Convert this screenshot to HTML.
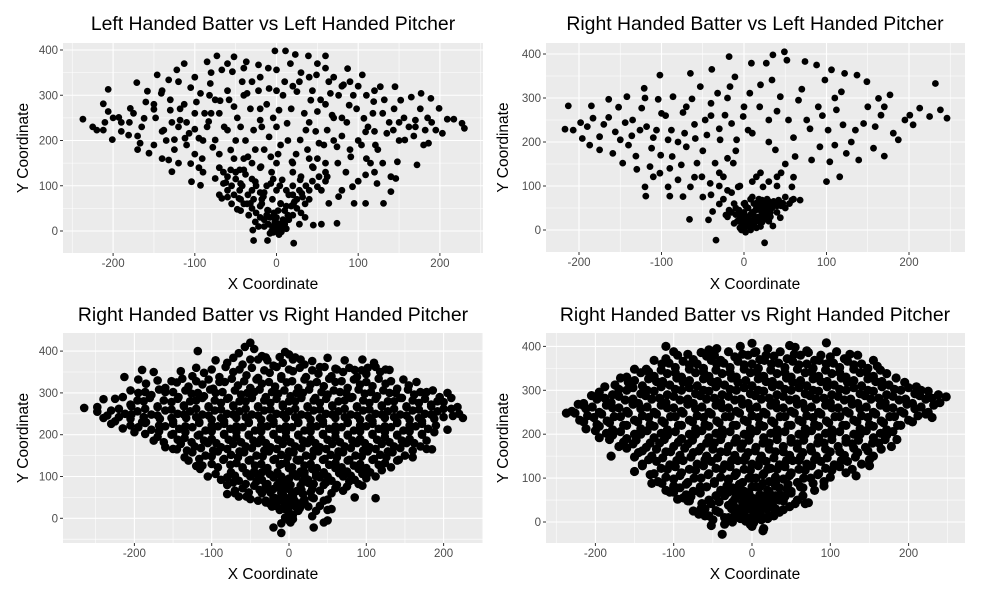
<!DOCTYPE html>
<html><head><meta charset="utf-8"><style>
html,body{margin:0;padding:0;background:#fff;}
svg{display:block;font-family:"Liberation Sans",Arial,sans-serif;}
</style></head><body>
<svg id="chart" width="981" height="598" viewBox="0 0 981 598" xmlns="http://www.w3.org/2000/svg">
<rect x="0" y="0" width="981" height="598" fill="#fff"/>
</svg>
<script>
const xTicks=[-200,-100,0,100,200];
const yTicks=[0,100,200,300,400];
const titles=["Left Handed Batter vs Left Handed Pitcher","Right Handed Batter vs Left Handed Pitcher","Right Handed Batter vs Right Handed Pitcher","Right Handed Batter vs Right Handed Pitcher"];
const hitsLvL=[[-237,247],[-220,223],[-212,281],[-206,313],[-201,202],[-206,264],[-212,223],[-193,251],[-181,212],[-179,271],[-171,328],[-158,309],[-167,194],[-156,172],[-162,249],[-146,345],[-141,304],[-150,269],[-138,223],[-130,267],[-132,334],[-125,202],[-132,157],[-128,131],[-122,356],[-113,370],[-113,280],[-118,245],[-107,216],[-105,317],[-105,149],[-104,109],[-93,101],[-93,304],[-91,160],[-95,205],[-85,374],[-81,326],[-83,242],[-75,201],[-73,387],[-69,288],[-75,116],[-67,356],[-60,223],[-67,72],[-62,107],[-56,135],[-56,179],[-52,385],[-52,275],[-54,352],[-44,230],[-37,374],[-40,135],[-46,72],[-36,304],[-35,164],[-44,105],[-32,61],[-28,-21],[-29,2],[-28,223],[-26,109],[-22,367],[-20,245],[-19,142],[-16,76],[-11,-21],[-9,208],[-9,315],[-7,105],[-7,164],[-11,46],[-3,30],[-1,2],[1,17],[-2,398],[3,267],[5,190],[7,113],[5,61],[0,356],[11,398],[13,238],[17,370],[19,153],[21,61],[21,-27],[23,390],[25,308],[29,201],[29,113],[31,83],[36,223],[39,387],[42,289],[44,142],[45,13],[49,345],[50,264],[52,194],[50,98],[55,15],[60,387],[62,223],[62,120],[64,61],[66,304],[68,256],[74,17],[74,186],[76,76],[82,323],[87,359],[89,278],[91,164],[93,98],[95,61],[105,345],[107,249],[109,219],[109,124],[109,61],[115,150],[119,286],[121,190],[123,105],[127,319],[131,61],[135,216],[140,87],[143,223],[145,319],[146,116],[148,153],[152,289],[157,201],[165,296],[172,146],[170,245],[177,304],[182,223],[186,194],[189,293],[195,223],[199,271],[203,216],[209,247],[217,247],[227,238],[230,227],
[-40,60],[-30,50],[-25,40],[-20,30],[-15,25],[-10,15],[-5,10],[0,5],[5,8],[10,15],[15,25],[20,35],[25,50],[-35,80],[-45,90],[-55,100],[-60,120],[-50,130],[-20,55],[-10,45],[0,30],[10,45],[-5,70],[5,60],[-15,85],[15,80],[-25,100],[0,90],[20,100],[30,120],[-8,-5],[3,-8],[-2,20],[8,25],[-12,35],[12,5],[-3,40],[25,70],[35,60],[-30,115],[40,90],[-70,80],[-65,130],[-45,135],[-38,125],[-55,60],[-48,48],[-60,75],[35,30],[28,15],[18,55],[-18,70],[-22,10],[6,-2],[0,0],[-4,-3],[45,140],[60,150],[70,200],[80,250],[-80,260],[-90,200],[-110,240],[-120,230],[-100,260],[-130,290],[-150,280],[-165,230],[-190,240],[-75,290],[-60,310],[-40,300],[-20,270],[-30,330],[-10,360],[10,330],[30,350],[50,370],[70,340],[90,330],[110,300],[130,260],[150,240],[170,230],[185,250],[100,200],[120,220],[60,280],[40,240],[-50,200],[-70,170],[-95,140],[-85,230],[-125,180],[-140,220],[-175,260],[-200,250],[110,160],[130,150],[90,180],[60,110],[80,90],[-140,160],[-110,190],[0,230],[-15,180],[20,150],[50,160],[-30,150],
[-180,240],[-170,210],[-160,285],[-148,250],[-135,200],[-128,240],[-118,270],[-112,205],[-100,225],[-98,285],[-88,260],[-82,300],[-78,185],[-70,260],[-64,230],[-58,290],[-52,160],[-48,250],[-42,330],[-38,200],[-32,270],[-26,180],[-22,310],[-18,230],[-12,280],[-6,130],[-4,250],[2,170],[8,300],[14,200],[18,270],[24,170],[28,330],[34,260],[38,180],[44,310],[48,220],[54,290],[58,190],[64,330],[70,250],[76,300],[80,210],[86,240],[94,300],[98,270],[104,190],[112,230],[118,260],[124,180],[132,290],[138,240],[144,270],[150,200],[156,250],[162,230],[168,210],[176,270],[180,190],[190,240],[-60,90],[-52,80],[-44,70],[-36,60],[-28,70],[-20,85],[-12,100],[-4,115],[4,100],[12,90],[20,80],[28,90],[36,100],[44,110],[52,120],[-42,100],[-30,90],[-18,60],[-8,30],[2,45],[12,55],[22,65],[32,75],[-50,115],[-65,105],[40,70],[55,90],[-15,10],[-6,0],[4,15],[14,35],[-26,20],[-34,35],[-44,45],[30,40],[-70,140],[-40,160],[-20,140],[0,150],[20,130],[40,160],[60,130],[75,150],[85,130],[100,110],[120,130],[140,120],[-150,190],[-170,180],[-190,220],[-210,240],[-225,230],[-100,170],[-120,150],[-90,130],[-140,310],[-120,330],[-100,340],[-80,350],[-60,370],[-40,360],[-20,340],[0,310],[20,320],[40,340],[60,360],[80,320],[100,320],[120,310]];
const hitsRvL=[[-217,229],[-213,282],[-207,227],[-198,244],[-196,208],[-190,235],[-185,282],[-183,254],[-187,193],[-175,212],[-175,182],[-164,256],[-164,297],[-159,174],[-156,223],[-152,279],[-147,152],[-144,244],[-142,303],[-140,193],[-136,214],[-131,168],[-130,138],[-126,227],[-124,277],[-121,322],[-120,98],[-119,77],[-118,235],[-114,144],[-112,186],[-110,121],[-106,227],[-104,297],[-102,352],[-101,170],[-102,129],[-100,265],[-92,205],[-92,98],[-90,77],[-88,227],[-87,167],[-86,303],[-80,114],[-76,148],[-74,267],[-74,76],[-72,220],[-70,189],[-66,24],[-65,98],[-65,356],[-63,298],[-59,208],[-57,152],[-53,326],[-51,121],[-47,250],[-45,216],[-43,23],[-41,106],[-40,288],[-39,365],[-38,42],[-35,152],[-34,-23],[-32,311],[-29,205],[-30,59],[-25,121],[-23,261],[-22,34],[-20,163],[-18,394],[-17,326],[-15,242],[-13,152],[-11,348],[-9,205],[-7,98],[-5,38],[-3,0],[-1,258],[1,61],[5,227],[7,311],[9,379],[11,15],[15,121],[17,61],[19,280],[23,98],[25,-29],[27,379],[27,30],[30,250],[34,341],[35,9],[35,398],[38,182],[40,121],[44,303],[47,61],[49,405],[52,386],[54,250],[58,98],[62,167],[68,68],[66,295],[74,383],[76,250],[82,159],[88,375],[90,280],[92,189],[98,341],[100,110],[102,227],[104,155],[106,364],[110,193],[112,273],[116,121],[118,314],[120,239],[122,356],[124,174],[135,227],[137,352],[139,159],[145,242],[149,337],[157,186],[159,235],[163,299],[166,261],[170,168],[170,280],[177,307],[181,220],[187,205],[195,250],[201,261],[205,239],[213,277],[225,258],[232,333],[238,273],[246,254],
[0,5],[3,10],[6,15],[10,20],[14,25],[18,30],[22,35],[26,40],[30,45],[34,50],[5,30],[10,40],[15,50],[20,55],[25,60],[30,65],[35,55],[-3,15],[-5,25],[0,40],[5,50],[12,60],[18,70],[28,70],[38,60],[40,40],[22,18],[15,5],[8,0],[2,-5],[-2,8],[-8,20],[-10,35],[0,60],[8,70],[25,25],[32,30],[20,45],[12,32],[-6,45],[-12,60],[-15,85],[-5,100],[10,110],[30,110],[45,130],[50,75],[55,60],[60,70],[-20,30],[-25,70],[-40,80],[-30,100],[45,55],
[-5,5],[4,20],[8,35],[14,45],[18,20],[24,50],[28,55],[32,40],[36,65],[40,55],[42,68],[2,55],[-2,30],[-6,35],[6,8],[12,12],[20,8],[26,30],[30,20],[16,62],[22,68],[-10,50],[-15,40],[10,75],[50,50],[58,68],[44,28],[-12,15],[-18,45],[0,20],
[-170,240],[-150,205],[-135,250],[-120,300],[-110,210],[-95,260],[-80,200],[-70,280],[-60,240],[-50,180],[-40,260],[-30,230],[-20,300],[-10,180],[0,280],[10,220],[20,330],[30,200],[40,270],[50,150],[60,210],[70,320],[80,230],[95,260],[110,300],[130,200],[150,280],[-90,140],[-60,120],[-30,130],[-20,90],[20,130],[40,100],[-50,75],[60,120]];
const hitsRvR1=[[-50,420],[-45,405],[-57,410],[-5,398],[0,392],[8,385],[15,380],[-65,395],[-35,388],[-118,400],
[-95,378],[-80,372],[-60,368],[-40,380],[-20,365],[-8,372],[20,368],[40,362],[60,358],[85,355],[110,372],[102,360],[-30,385],
[-140,352],[-125,340],[-110,348],[-90,338],[-72,350],[-55,342],[-40,336],[-25,348],[-10,340],[5,352],[22,338],[38,346],[55,340],[70,350],[88,338],[100,345],[118,350],[130,355],[-175,350],[-190,355],
[-185,322],[-160,312],[-145,325],[-130,315],[-112,320],[-98,310],[-83,326],[-66,318],[-50,312],[-35,322],[-18,315],[-3,325],[12,312],[28,320],[45,316],[60,326],[76,312],[92,320],[108,316],[125,322],[140,310],[155,318],[-213,338],[-170,330],
[-215,290],[-195,300],[-178,295],[-160,302],[-143,290],[-126,298],[-110,292],[-95,300],[-78,288],[-62,296],[-45,302],[-30,290],[-14,298],[2,292],[18,300],[34,288],[50,296],[66,302],[82,290],[98,298],[114,292],[130,300],[146,288],[162,296],[178,302],[195,290],[205,300],
[-240,285],[-205,272],[-188,280],[-170,268],[-152,278],[-136,270],[-120,282],[-104,268],[-88,276],[-72,270],[-56,280],[-40,268],[-24,276],[-8,272],[8,280],[24,268],[40,276],[56,270],[72,282],[88,268],[104,276],[120,270],[136,280],[152,268],[168,276],[184,272],[200,278],
[-265,264],[-230,258],[-212,250],[-196,256],[-178,248],[-160,258],[-144,250],[-128,256],[-112,248],[-96,258],[-80,250],[-64,256],[-48,248],[-32,258],[-16,250],[0,256],[16,248],[32,258],[48,250],[64,256],[80,248],[96,258],[112,250],[128,256],[144,248],[160,258],[176,250],[192,256],[210,262],[225,240],
[-225,232],[-205,238],[-185,230],[-167,238],[-150,232],[-133,240],[-116,230],[-100,236],[-84,232],[-68,240],[-52,230],[-36,236],[-20,232],[-4,240],[12,230],[28,236],[44,232],[60,240],[76,230],[92,236],[108,232],[124,240],[140,230],[156,236],[172,232],[188,238],[212,245],[-240,240],[-248,255],
[-215,215],[-195,218],[-178,212],[-160,220],[-142,214],[-125,218],[-108,210],[-92,220],[-76,214],[-60,218],[-44,210],[-28,220],[-12,214],[4,218],[20,210],[36,220],[52,214],[68,218],[84,210],[100,220],[116,214],[132,218],[148,210],[164,220],[180,214],[205,212],
[-170,195],[-152,200],[-135,192],[-118,198],[-100,190],[-84,200],[-68,194],[-52,198],[-36,190],[-20,200],[-4,194],[12,198],[28,190],[44,200],[60,194],[76,198],[92,190],[108,200],[124,194],[140,198],[156,190],[172,200],[-190,230],
[-160,170],[-140,178],[-122,172],[-105,180],[-88,170],[-72,178],[-56,172],[-40,180],[-24,170],[-8,178],[8,172],[24,180],[40,170],[56,178],[72,172],[88,180],[104,170],[120,178],[136,172],[152,180],[170,172],[185,165],
[-125,158],[-108,150],[-92,160],[-75,152],[-58,158],[-42,150],[-26,160],[-10,152],[6,158],[22,150],[38,160],[54,152],[70,158],[86,150],[102,160],[118,152],[134,158],[150,150],[-145,165],
[-130,138],[-100,130],[-85,140],[-68,132],[-52,138],[-36,130],[-20,140],[-4,132],[12,138],[28,130],[44,140],[60,132],[76,138],[92,130],[108,140],[124,132],[140,138],[-120,125],
[-115,118],[-75,110],[-60,120],[-45,112],[-30,118],[-15,110],[0,120],[15,112],[30,118],[45,110],[60,120],[75,112],[90,118],[105,110],[120,115],[-105,100],
[-80,98],[-65,90],[-50,100],[-35,92],[-20,98],[-5,90],[10,100],[25,92],[40,98],[55,90],[70,100],[85,92],[100,96],[-88,92],
[-80,80],[-60,72],[-45,78],[-30,70],[-15,80],[0,72],[15,78],[30,70],[45,80],[60,72],[75,76],[95,78],[-70,60],
[-80,58],[-55,52],[-35,60],[-20,50],[-8,58],[5,52],[18,58],[30,50],[50,45],[85,50],[112,48],[-65,52],[-40,42],[-25,35],
[-30,38],[-18,30],[-5,36],[8,32],[20,38],[40,30],[55,22],[-12,45],[0,45],[10,25],
[-12,20],[0,14],[12,18],[35,18],[50,20],[-5,22],[5,8],
[-5,2],[5,-2],[30,5],[45,-10],[0,-5],[-10,-12],
[-20,-22],[2,-10],[32,-22],[50,-5],[-10,-35],
[-10,60],[0,70],[10,65],[-15,40],[20,45],[-30,80],[25,85],[-5,50],[8,40],[15,30],[-20,70],
[-72,384],[-50,380],[-28,378],[-12,386],[5,380],[30,376],[50,384],[72,378],[95,380],
[-120,360],[-100,356],[-82,362],[-64,356],[-48,360],[-32,354],[-16,362],[0,356],[14,360],[30,354],[46,362],[62,356],[78,360],[94,354],[112,362],[125,356],
[-195,332],[-152,328],[-138,334],[-120,328],[-104,332],[-90,326],[-74,334],[-58,328],[-42,332],[-26,326],[-10,334],[4,328],[20,332],[36,326],[52,334],[68,328],[84,332],[100,326],[116,334],[132,328],[148,332],[165,326],
[-205,306],[-186,302],[-168,308],[-150,302],[-134,306],[-118,300],[-102,308],[-86,302],[-70,306],[-54,300],[-38,308],[-22,302],[-6,306],[10,300],[26,308],[42,302],[58,306],[74,300],[90,308],[106,302],[122,306],[138,300],[154,308],[170,302],[186,306],
[-225,286],[-196,282],[-180,288],[-162,282],[-144,286],[-128,280],[-112,288],[-96,282],[-80,286],[-64,280],[-48,288],[-32,282],[-16,286],[0,280],[16,288],[32,282],[48,286],[64,280],[80,288],[96,282],[112,286],[128,280],[144,288],[160,282],[176,286],[192,280],[210,288],
[-248,266],[-220,262],[-204,268],[-186,262],[-170,266],[-152,260],[-136,268],[-120,262],[-104,266],[-88,260],[-72,268],[-56,262],[-40,266],[-24,260],[-8,268],[8,262],[24,266],[40,260],[56,268],[72,262],[88,266],[104,260],[120,268],[136,262],[152,266],[168,260],[184,268],[200,262],[218,266],
[-235,246],[-220,242],[-204,248],[-188,242],[-170,246],[-152,240],[-136,248],[-120,242],[-104,246],[-88,240],[-72,248],[-56,242],[-40,246],[-24,240],[-8,248],[8,242],[24,246],[40,240],[56,248],[72,242],[88,246],[104,240],[120,248],[136,242],[152,246],[168,240],[184,248],[200,242],[220,250],
[-230,226],[-205,222],[-186,228],[-168,222],[-150,226],[-134,220],[-116,228],[-100,222],[-84,226],[-68,220],[-52,228],[-36,222],[-20,226],[-4,220],[12,228],[28,222],[44,226],[60,220],[76,228],[92,222],[108,226],[124,220],[140,228],[156,222],[172,226],[190,222],
[-200,206],[-186,202],[-168,208],[-150,202],[-134,206],[-116,200],[-100,208],[-84,202],[-68,206],[-52,200],[-36,208],[-20,202],[-4,206],[12,200],[28,208],[44,202],[60,206],[76,200],[92,208],[108,202],[124,206],[140,200],[156,208],[172,202],[188,206],
[-175,186],[-162,182],[-144,188],[-126,182],[-110,186],[-94,180],[-78,188],[-62,182],[-46,186],[-30,180],[-14,188],[2,182],[18,186],[34,180],[50,188],[66,182],[82,186],[98,180],[114,188],[130,182],[146,186],[162,180],[178,186],
[-150,166],[-132,162],[-114,168],[-98,162],[-80,166],[-64,160],[-48,168],[-32,162],[-16,166],[0,160],[16,168],[32,162],[48,166],[64,160],[80,168],[96,162],[112,166],[128,160],[144,168],[160,162],[178,166],
[-135,146],[-116,142],[-100,148],[-84,142],[-66,146],[-50,140],[-34,148],[-18,142],[-2,146],[14,140],[30,148],[46,142],[62,146],[78,140],[94,148],[110,142],[126,146],[142,140],[160,146],
[-112,126],[-92,122],[-76,128],[-60,122],[-44,126],[-28,120],[-12,128],[4,122],[20,126],[36,120],[52,128],[68,122],[84,126],[100,120],[116,128],[132,122],
[-95,106],[-70,102],[-55,108],[-40,102],[-25,106],[-10,100],[5,108],[20,102],[35,106],[50,100],[65,108],[80,102],[95,106],[112,100],
[-72,86],[-56,82],[-42,88],[-28,82],[-12,86],[2,80],[18,88],[32,82],[48,86],[62,80],[78,88],[90,82],
[-70,66],[-52,62],[-38,68],[-24,62],[-10,66],[4,60],[16,68],[28,62],[40,66],[55,60],[70,66],
[-50,46],[-30,42],[-18,48],[-6,42],[6,46],[18,40],[32,48],[45,42],
[-22,28],[-10,24],[2,30],[14,24],[25,28],
[-20,100],[0,95],[20,110],[-10,130],[10,140],[35,100],[-35,110],[-5,80]];
const hitsRvR2=[[-55,392],[-15,400],[5,388],[20,395],[48,402],[55,398],[70,390],[95,408],[-110,400],[0,407],[-45,395],
[-110,372],[-95,380],[-75,370],[-58,378],[-40,368],[-22,376],[-5,380],[10,370],[28,378],[45,372],[62,380],[80,368],[100,376],[118,372],[135,380],
[-135,348],[-115,360],[-98,352],[-80,358],[-62,350],[-45,360],[-28,352],[-10,358],[8,350],[25,360],[42,352],[60,358],[78,350],[95,360],[112,352],[130,358],[148,350],[160,355],
[-160,330],[-142,340],[-125,332],[-108,338],[-90,330],[-72,340],[-55,332],[-38,338],[-20,330],[-2,340],[15,332],[32,338],[50,330],[68,340],[85,332],[102,338],[120,330],[138,340],[155,332],[172,338],
[-175,312],[-158,318],[-140,310],[-122,320],[-105,312],[-88,318],[-70,310],[-52,320],[-35,312],[-18,318],[0,310],[18,320],[35,312],[52,318],[70,310],[88,320],[105,312],[122,318],[140,310],[158,320],[175,312],[195,318],[210,308],
[-195,296],[-178,290],[-160,300],[-142,292],[-125,298],[-108,290],[-90,300],[-72,292],[-55,298],[-38,290],[-20,300],[-2,292],[15,298],[32,290],[50,300],[68,292],[85,298],[102,290],[120,300],[138,292],[155,298],[172,290],[190,300],[208,292],[225,298],[238,290],
[-215,270],[-198,280],[-180,272],[-162,278],[-145,270],[-128,280],[-110,272],[-92,278],[-75,270],[-58,280],[-40,272],[-22,278],[-5,270],[12,280],[30,272],[48,278],[65,270],[82,280],[100,272],[118,278],[135,270],[152,280],[170,272],[188,278],[205,270],[222,280],[240,272],[248,285],
[-230,252],[-212,258],[-195,250],[-178,260],[-160,252],[-142,258],[-125,250],[-108,260],[-90,252],[-72,258],[-55,250],[-38,260],[-20,252],[-2,258],[15,250],[32,260],[50,252],[68,258],[85,250],[102,260],[120,252],[138,258],[155,250],[172,260],[190,252],[208,258],[225,250],[-237,248],[-215,265],
[-220,232],[-202,238],[-185,230],[-168,240],[-150,232],[-132,238],[-115,230],[-98,240],[-80,232],[-62,238],[-45,230],[-28,240],[-10,232],[8,238],[25,230],[42,240],[60,232],[78,238],[95,230],[112,240],[130,232],[148,238],[165,230],[182,240],[200,232],[230,238],
[-212,212],[-195,218],[-178,210],[-160,220],[-142,212],[-125,218],[-108,210],[-90,220],[-72,212],[-55,218],[-38,210],[-20,220],[-2,212],[15,218],[32,210],[50,220],[68,212],[85,218],[102,210],[120,220],[138,212],[155,218],[172,210],[190,220],
[-195,192],[-178,198],[-160,190],[-142,200],[-125,192],[-108,198],[-90,190],[-72,200],[-55,192],[-38,198],[-20,190],[-2,200],[15,192],[32,198],[50,190],[68,200],[85,192],[102,198],[120,190],[138,200],[155,192],[172,198],[185,188],
[-170,172],[-152,178],[-135,170],[-118,180],[-100,172],[-82,178],[-65,170],[-48,180],[-30,172],[-12,178],[5,170],[22,180],[40,172],[58,178],[75,170],[92,180],[110,172],[128,178],[145,170],[162,180],[178,172],
[-180,150],[-145,158],[-128,150],[-110,160],[-92,152],[-75,158],[-58,150],[-40,160],[-22,152],[-5,158],[12,150],[30,160],[48,152],[65,158],[82,150],[100,160],[118,152],[135,158],[155,150],
[-140,132],[-122,138],[-105,130],[-88,140],[-70,132],[-52,138],[-35,130],[-18,140],[0,132],[18,138],[35,130],[52,140],[70,132],[88,138],[105,130],[122,138],[140,132],[150,128],
[-150,115],[-125,110],[-108,120],[-90,112],[-72,118],[-55,110],[-38,120],[-20,112],[-2,118],[15,110],[32,120],[50,112],[68,118],[85,110],[102,118],[120,112],[133,105],
[-120,92],[-100,98],[-82,90],[-65,100],[-48,92],[-30,98],[-12,90],[5,100],[22,92],[40,98],[58,90],[75,100],[92,92],[-128,88],
[-110,72],[-92,78],[-75,70],[-58,80],[-40,72],[-25,78],[-10,70],[5,80],[20,72],[35,78],[50,70],[65,78],[80,72],[-105,68],
[-95,52],[-78,58],[-55,50],[-35,60],[-22,52],[-10,58],[2,50],[15,58],[28,52],[42,58],[58,50],[-80,48],[-88,55],
[-75,25],[-52,42],[-30,38],[-18,30],[-6,36],[6,32],[18,38],[30,30],[68,42],[72,44],[-60,30],[48,35],[-12,45],[10,45],[25,45],
[-68,18],[-42,22],[-22,15],[-10,20],[0,12],[10,18],[22,15],[35,22],[-60,14],[-30,10],
[-50,5],[-8,2],[2,-2],[12,5],[-2,-6],[-15,8],[20,8],
[-52,-8],[-35,-5],[0,-10],[15,-15],[-38,-28],[14,-20],[-25,0],
[-5,40],[5,25],[-15,30],[15,40],[0,55],[-8,65],[10,62],[20,58],[-20,62],[30,60],[-25,45],[25,35],[35,50],
[-100,388],[-82,382],[-65,386],[-48,380],[-30,388],[-12,382],[3,386],[18,380],[36,388],[54,382],[72,386],[88,380],[108,388],[125,382],
[-125,368],[-106,362],[-88,366],[-70,360],[-52,368],[-36,362],[-18,366],[0,360],[16,368],[34,362],[52,366],[70,360],[86,368],[104,362],[122,366],[140,360],[155,368],
[-150,348],[-132,342],[-116,346],[-98,340],[-80,348],[-62,342],[-46,346],[-28,340],[-10,348],[6,342],[24,346],[42,340],[58,348],[76,342],[94,346],[112,340],[130,348],[146,342],[164,346],
[-168,328],[-150,322],[-132,326],[-114,320],[-96,328],[-80,322],[-62,326],[-44,320],[-26,328],[-8,322],[8,326],[26,320],[44,328],[62,322],[78,326],[96,320],[114,328],[130,322],[148,326],[166,320],[184,328],
[-188,308],[-170,302],[-152,306],[-134,300],[-116,308],[-98,302],[-80,306],[-62,300],[-46,308],[-28,302],[-10,306],[8,300],[26,308],[42,302],[60,306],[78,300],[96,308],[112,302],[130,306],[148,300],[166,308],[182,302],[200,306],[216,300],
[-205,288],[-188,282],[-170,286],[-152,280],[-136,288],[-118,282],[-100,286],[-82,280],[-66,288],[-48,282],[-30,286],[-14,280],[4,288],[22,282],[40,286],[56,280],[74,288],[92,282],[110,286],[126,280],[144,288],[162,282],[180,286],[196,280],[214,288],[230,282],
[-222,268],[-204,262],[-186,266],[-170,260],[-152,268],[-134,262],[-116,266],[-100,260],[-82,268],[-64,262],[-46,266],[-30,260],[-12,268],[6,262],[24,266],[40,260],[58,268],[76,262],[94,266],[110,260],[128,268],[146,262],[164,266],[180,260],[198,268],[216,262],[232,266],
[-226,248],[-210,242],[-192,246],[-176,240],[-158,248],[-140,242],[-122,246],[-104,240],[-88,248],[-70,242],[-52,246],[-34,240],[-16,248],[0,242],[18,246],[36,240],[54,248],[70,242],[88,246],[106,240],[124,248],[140,242],[158,246],[176,240],[194,248],[212,242],[222,246],
[-215,228],[-198,222],[-182,226],[-164,220],[-146,228],[-130,222],[-112,226],[-94,220],[-76,228],[-60,222],[-42,226],[-24,220],[-6,228],[10,222],[28,226],[46,220],[64,228],[80,222],[98,226],[116,220],[134,228],[150,222],[168,226],[186,220],[205,228],
[-200,208],[-186,202],[-168,206],[-150,200],[-134,208],[-116,202],[-98,206],[-80,200],[-64,208],[-46,202],[-28,206],[-10,200],[6,208],[24,202],[42,206],[60,200],[76,208],[94,202],[112,206],[130,200],[146,208],[164,202],[180,206],
[-182,188],[-164,182],[-148,186],[-130,180],[-112,188],[-94,182],[-76,186],[-58,180],[-40,188],[-22,182],[-4,186],[14,180],[32,188],[50,182],[66,186],[84,180],[102,188],[120,182],[136,186],[154,180],[170,188],
[-160,168],[-140,162],[-122,166],[-104,160],[-86,168],[-68,162],[-50,166],[-32,160],[-14,168],[4,162],[22,166],[40,160],[58,168],[76,162],[94,166],[112,160],[130,168],[148,162],[165,166],
[-150,148],[-132,142],[-114,146],[-96,140],[-78,148],[-60,142],[-44,146],[-26,140],[-8,148],[10,142],[28,146],[44,140],[62,148],[80,142],[96,146],[114,140],[132,148],[150,142],
[-140,128],[-116,122],[-98,126],[-80,120],[-62,128],[-46,122],[-28,126],[-10,120],[8,128],[24,122],[42,126],[60,120],[76,128],[94,122],[112,126],[128,120],
[-130,108],[-110,102],[-92,106],[-74,100],[-56,108],[-40,102],[-22,106],[-4,100],[14,108],[30,102],[48,106],[66,100],[84,108],[100,102],
[-115,88],[-100,82],[-84,86],[-66,80],[-48,88],[-32,82],[-16,86],[0,80],[14,88],[30,82],[46,86],[62,80],[78,88],[92,82],
[-100,68],[-84,62],[-66,66],[-46,60],[-30,68],[-16,62],[-4,66],[10,60],[22,68],[36,62],[50,66],[65,60],
[-82,48],[-64,42],[-42,46],[-24,40],[-10,48],[2,42],[14,46],[26,40],[40,48],[55,42],
[-65,30],[-46,26],[-26,30],[-14,24],[-2,30],[8,26],[18,30],[30,24],[40,28],
[-55,14],[-35,10],[-18,14],[-4,8],[6,14],[16,10],[28,14],
[-20,110],[0,100],[20,120],[40,130],[-10,140],[30,90],[50,110],[60,140],[10,80],[-30,95],[45,75],[-15,75]];

const NS="http://www.w3.org/2000/svg";
const svg=document.getElementById("chart");
function mk(tag,attrs,parent){const e=document.createElementNS(NS,tag);for(const k in attrs)e.setAttribute(k,attrs[k]);(parent||svg).appendChild(e);return e;}

const panels=[
 {L:63,R:483,T:43,B:253,x0:276.5,sx:0.817,y0:231,sy:0.4525,r:3.4,data:hitsLvL,tx:273,ty:30,xlx:273,xly:289,ylx:28,name:"lhb-vs-lhp"},
 {L:546,R:965,T:43,B:252,x0:744,sx:0.825,y0:230,sy:0.44,r:3.4,data:hitsRvL,tx:755,ty:30,xlx:755,xly:289,ylx:508,name:"rhb-vs-lhp"},
 {L:63,R:483,T:333,B:543,x0:289,sx:0.773,y0:518.3,sy:0.418,r:4.3,data:hitsRvR1,tx:273,ty:321,xlx:273,xly:579,ylx:28,name:"rhb-vs-rhp-a"},
 {L:546,R:965,T:333,B:543,x0:752,sx:0.783,y0:522,sy:0.439,r:4.6,data:hitsRvR2,tx:755,ty:321,xlx:755,xly:579,ylx:508,name:"rhb-vs-rhp-b"}
];

panels.forEach((p,i)=>{
 const X=v=>p.x0+v*p.sx, Y=v=>p.y0-v*p.sy;
 const g=mk("g",{});
 
 
 const bg=mk("rect",{x:p.L,y:p.T,width:p.R-p.L,height:p.B-p.T,fill:"#ebebeb"},g);
 
 
 for(let v=-250;v<=250;v+=100){const x=X(v);if(x>p.L&&x<p.R)mk("line",{x1:x,x2:x,y1:p.T,y2:p.B,stroke:"#fff","stroke-width":0.55},g);}
 for(let v=-50;v<=450;v+=100){const y=Y(v);if(y>p.T&&y<p.B)mk("line",{x1:p.L,x2:p.R,y1:y,y2:y,stroke:"#fff","stroke-width":0.55},g);}
 xTicks.forEach(v=>{const x=X(v);
  const gl=mk("line",{x1:x,x2:x,y1:p.T,y2:p.B,stroke:"#fff","stroke-width":1.1},g);
  
  
  mk("line",{x1:x,x2:x,y1:p.B,y2:p.B+3,stroke:"#333","stroke-width":1},g);
  const t=mk("text",{x:x,y:p.B+14,"text-anchor":"middle","font-size":11.5,fill:"#4d4d4d"},g);t.textContent=String(v);
  
  
 });
 yTicks.forEach(v=>{const y=Y(v);
  const gl=mk("line",{x1:p.L,x2:p.R,y1:y,y2:y,stroke:"#fff","stroke-width":1.1},g);
  
  
  mk("line",{x1:p.L-3,x2:p.L,y1:y,y2:y,stroke:"#333","stroke-width":1},g);
  const t=mk("text",{x:p.L-5,y:y+4,"text-anchor":"end","font-size":11.5,fill:"#4d4d4d"},g);t.textContent=String(v);
  
  
 });
 const pts=mk("g",{},g);
 
 
 p.data.forEach(d=>{
  const c=mk("circle",{cx:X(d[0]).toFixed(1),cy:Y(d[1]).toFixed(1),r:p.r,fill:"#000"},pts);
  
  
 });
 const tt=mk("text",{x:p.tx,y:p.ty,"text-anchor":"middle","font-size":19.4,fill:"#000"},g);tt.textContent=titles[i];
 
 
 const xl=mk("text",{x:p.xlx,y:p.xly,"text-anchor":"middle","font-size":15.5,fill:"#000"},g);xl.textContent="X Coordinate";
 
 
 const cy=(p.T+p.B)/2;
 const yl=mk("text",{x:p.ylx,y:cy,"text-anchor":"middle","font-size":15.5,fill:"#000",transform:`rotate(-90 ${p.ylx} ${cy})`},g);yl.textContent="Y Coordinate";
 
 
});
</script>
</body></html>
